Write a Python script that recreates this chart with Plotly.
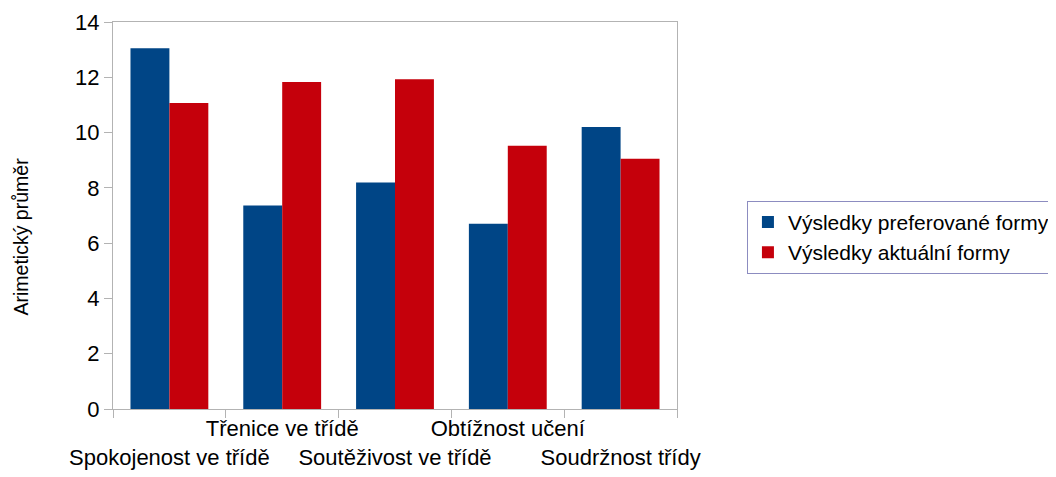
import plotly.graph_objects as go

categories = ["Spokojenost ve třídě", "Třenice ve třídě", "Soutěživost ve třídě",
              "Obtížnost učení", "Soudržnost třídy"]
preferovane = [13.05, 7.36, 8.19, 6.70, 10.20]
aktualni = [11.07, 11.83, 11.93, 9.52, 9.05]
y_ticks = [0, 2, 4, 6, 8, 10, 12, 14]
y_title = "Arimetický průměr"

tick_text = [("<br>" + c) if i % 2 == 0 else c for i, c in enumerate(categories)]

fig = go.Figure()
fig.add_trace(go.Bar(x=categories, y=preferovane, name="Výsledky preferované formy",
                     marker=dict(color="#004586", line=dict(width=0))))
fig.add_trace(go.Bar(x=categories, y=aktualni, name="Výsledky aktuální formy",
                     marker=dict(color="#c5000b", line=dict(width=0))))

fig.update_layout(
    width=1056, height=477,
    margin=dict(l=105, r=387, t=14, b=76, autoexpand=False),
    paper_bgcolor="white", plot_bgcolor="white",
    font=dict(family="Liberation Sans", size=22, color="#000000"),
    barmode="group", bargap=0.31, bargroupgap=0,
    legend=dict(x=1.124, y=0.538, xanchor="left", yanchor="top",
                bordercolor="#8c8cc0", borderwidth=1,
                font=dict(size=21), tracegroupgap=0, itemwidth=30),
)
fig.add_annotation(
    text=y_title, xref="paper", yref="paper", x=-0.163, y=0.446,
    xanchor="center", yanchor="middle", textangle=-90, showarrow=False,
    font=dict(size=19.5, family="Liberation Sans", color="#000000"),
)
fig.update_xaxes(
    type="category", tickmode="array", tickvals=categories, ticktext=tick_text,
    tickson="boundaries", ticks="outside", ticklen=8, tickcolor="#b3b3b3",
    showline=True, linecolor="#b3b3b3", linewidth=1, mirror=True,
    showgrid=False, tickfont=dict(size=22), tickangle=0, automargin=False,
)
fig.update_yaxes(
    range=[0, 14], tickmode="array", tickvals=y_ticks,
    ticks="outside", ticklen=8, tickcolor="#b3b3b3",
    showline=True, linecolor="#b3b3b3", linewidth=1, mirror=True,
    showgrid=False, zeroline=False, tickfont=dict(size=22), automargin=False,
)

fig.write_html("out.html")
